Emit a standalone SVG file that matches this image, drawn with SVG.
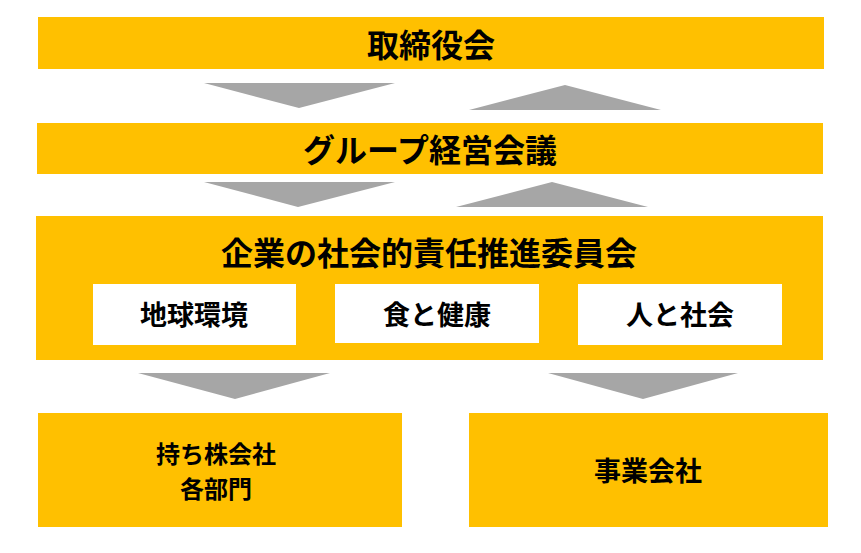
<svg xmlns="http://www.w3.org/2000/svg" width="861" height="553" viewBox="0 0 861 553">
<style>
.y{fill:#FFC000}
.w{fill:#FFFFFF}
.a{fill:#A6A6A6}
text{font-family:"Noto Sans CJK JP","Noto Sans",sans-serif;font-weight:700;fill:#000;text-anchor:middle;dominant-baseline:central}
.t1{font-size:32px}
.t2{font-size:27px}
.t3{font-size:24px}
</style>
<rect width="861" height="553" fill="#FFFFFF"/>
<g id="board">
<rect class="y" x="38" y="17" width="786" height="52"/>
<text class="t1" x="431" y="43">取締役会</text>
</g>
<g id="group-meeting">
<rect class="y" x="37" y="123" width="786" height="51"/>
<text class="t1" x="430" y="148">グループ経営会議</text>
</g>
<g id="csr-committee">
<rect class="y" x="36" y="216" width="787" height="144"/>
<text class="t1" x="429" y="251">企業の社会的責任推進委員会</text>
</g>
<g id="environment">
<rect class="w" x="93" y="284" width="203" height="61"/>
<text class="t2" x="194" y="313">地球環境</text>
</g>
<g id="food-health">
<rect class="w" x="335" y="284" width="204" height="59"/>
<text class="t2" x="437" y="313">食と健康</text>
</g>
<g id="people-society">
<rect class="w" x="578" y="284" width="204" height="61"/>
<text class="t2" x="680" y="313">人と社会</text>
</g>
<g id="holding-depts">
<rect class="y" x="38" y="413" width="364" height="114"/>
<text class="t3" x="216" y="452">持ち株会社</text>
<text class="t3" x="216" y="487">各部門</text>
</g>
<g id="operating-companies">
<rect class="y" x="469" y="413" width="359" height="114"/>
<text class="t2" x="648" y="469">事業会社</text>
</g>
<g id="connectors">
<polygon class="a" points="204,83 395,83 299,108"/>
<polygon class="a" points="469,110 661,110 565,85"/>
<polygon class="a" points="204,182 395,182 298,207"/>
<polygon class="a" points="456,207 648,207 552,182"/>
<polygon class="a" points="138,373 330,373 235,399"/>
<polygon class="a" points="548,373 738,373 643,399"/>
</g>
</svg>
